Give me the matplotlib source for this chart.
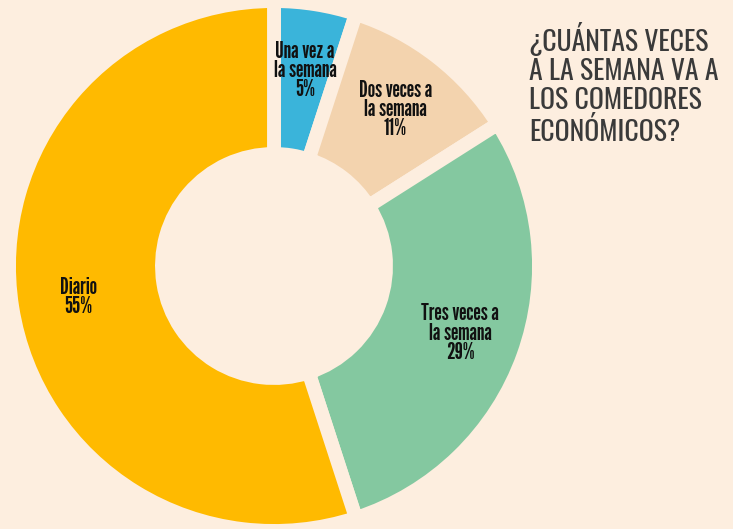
import numpy as np
import matplotlib
matplotlib.use("Agg")
import matplotlib.pyplot as plt

# Data (clockwise from 12 o'clock)
categorias = ["Una vez a\nla semana", "Dos veces a\nla semana", "Tres veces a\nla semana", "Diario"]
porcentajes = [5, 11, 29, 55]
colores = ["#3AB4DA", "#F3D3AE", "#84C8A0", "#FFBA00"]
titulo = "¿CUÁNTAS VECES\nA LA SEMANA VA A\nLOS COMEDORES\nECONÓMICOS?"

fondo = "#FDEEDF"
W, H = 733, 529
fig = plt.figure(figsize=(W / 100, H / 100), dpi=100, facecolor=fondo)
ax = fig.add_axes([0, 0, 1, 1])
ax.set_facecolor(fondo)

cx, cy = 274, 263
r_out, r_in = 265, 112
wedges, _ = ax.pie(
    porcentajes, colors=colores, startangle=90, counterclock=False,
    center=(cx, cy), radius=r_out,
    wedgeprops=dict(width=r_out - r_in, edgecolor=fondo, linewidth=10),
)

label_font = ["League Gothic", "DejaVu Sans"]
r_lab = 198
for w, cat, p in zip(wedges, categorias, porcentajes):
    ang = np.deg2rad((w.theta1 + w.theta2) / 2)
    ax.text(cx + r_lab * np.cos(ang), cy + r_lab * np.sin(ang), f"{cat}\n{p}%",
            ha="center", va="center", fontsize=17, family=label_font,
            color="#111111", linespacing=0.9)

ax.text(529, H - 22, titulo, ha="left", va="top", fontsize=20,
        family=["Oswald", "DejaVu Sans"], color="#3A3A3A", linespacing=1.1)

ax.set_xlim(0, W)
ax.set_ylim(0, H)
ax.set_aspect("equal")
ax.axis("off")
fig.savefig("out.png", dpi=100, facecolor=fondo)
